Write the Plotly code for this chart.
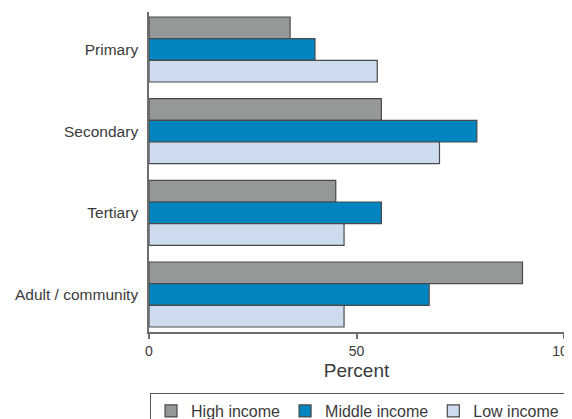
import plotly.graph_objects as go

categories = ["Primary", "Secondary", "Tertiary", "Adult / community"]
high_income = [34, 56, 45, 90]
middle_income = [40, 79, 56, 67.5]
low_income = [55, 70, 47, 47]

FONT = "Liberation Sans, Arial, sans-serif"
EDGE = "#4a4a4a"
AXIS = "#6e6e6e"

fig = go.Figure()
for name, vals, color in [
    ("High income", high_income, "#959898"),
    ("Middle income", middle_income, "#0085c1"),
    ("Low income", low_income, "#ccdbee"),
]:
    fig.add_trace(go.Bar(
        y=categories, x=vals, name=name, orientation="h",
        marker=dict(color=color, line=dict(color=EDGE, width=1.2)),
    ))

# page body has an 8px margin, so margins are shifted by 8px
fig.update_layout(
    width=572, height=419,
    margin=dict(l=141, r=16, t=4, b=95, autoexpand=False),
    paper_bgcolor="white", plot_bgcolor="white",
    barmode="group", bargap=0.204, bargroupgap=0,
    font=dict(family=FONT, size=15.5, color="#3a3a3a"),
    legend=dict(
        orientation="h", x=0.002, xanchor="left", y=-0.19, yanchor="top",
        bordercolor="#555555", borderwidth=1.2, font=dict(size=16),
        traceorder="normal",
    ),
)
fig.update_xaxes(
    range=[0, 100], tickvals=[0, 50, 100], showgrid=False, zeroline=False,
    showline=True, linecolor=AXIS, linewidth=1.5, automargin=False,
    ticks="outside", ticklen=5, tickcolor=AXIS, tickwidth=1.5,
    tickfont=dict(size=14), ticklabeloverflow="allow",
    title=dict(text="Percent", standoff=6),
)
fig.update_yaxes(
    range=[3.459, -0.459], showgrid=False, zeroline=False, automargin=False,
    showline=True, linecolor=AXIS, linewidth=1.5,
    ticks="", ticklabelstandoff=6,
)

fig.write_html("out.html")
